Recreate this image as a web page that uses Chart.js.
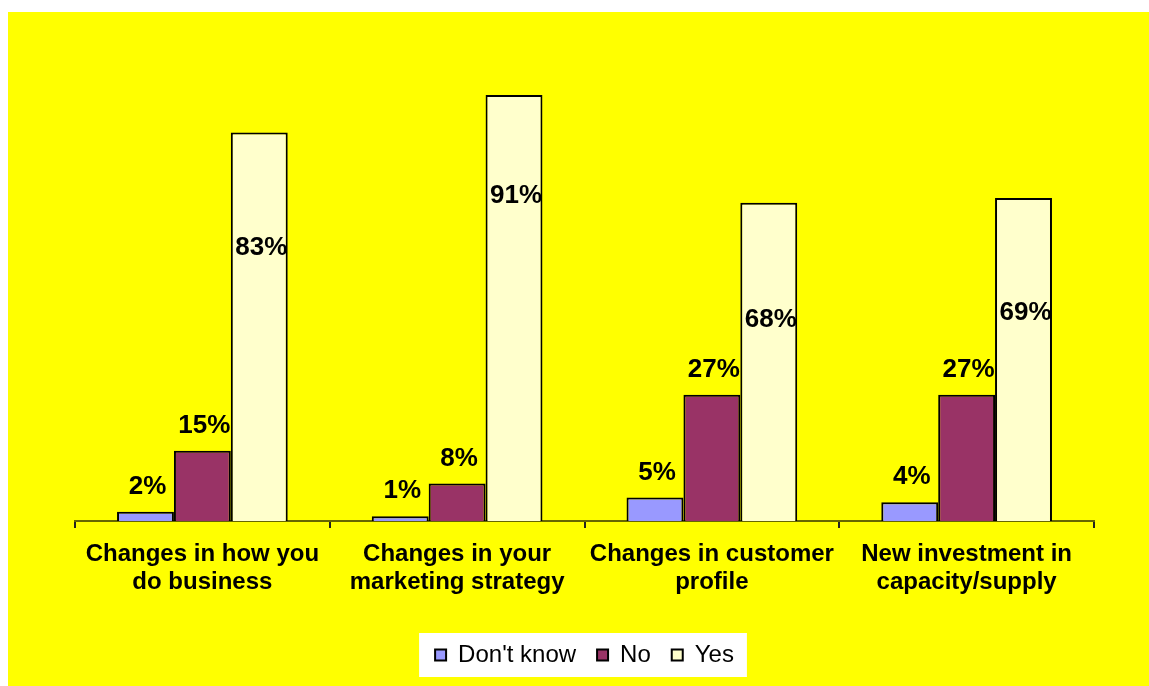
<!DOCTYPE html>
<html>
<head>
<meta charset="utf-8">
<script src="https://cdn.jsdelivr.net/npm/chart.js@4"></script>
<style>
	html, body { margin: 0; padding: 0; background: #FFF; }
	#wrap { position: relative; width: 1149px; height: 686px; }
</style>
</head>
<body>
<div id="wrap"><canvas id="graph_survey"></canvas></div>
<script>
var categories = [
	["Changes in how you", "do business"],
	["Changes in your", "marketing strategy"],
	["Changes in customer", "profile"],
	["New investment in", "capacity/supply"]
];
var dontKnow = [2, 1, 5, 4];
var no = [15, 8, 27, 27];
var yes = [83, 91, 68, 69];

var graph_survey;

// yellow panel behind the chart, white box behind the legend
var panelPlugin = {
	id: 'panel',
	beforeDraw: function(chart){
		var ctx = chart.ctx;
		ctx.save();
		ctx.fillStyle = '#FFFF00';
		ctx.fillRect(8, 12, chart.width - 8, chart.height - 12);

		var boxes = chart.legend.legendHitBoxes;
		if(boxes && boxes.length){
			var first = boxes[0];
			var last = boxes[boxes.length - 1];
			var mid = first.top + first.height / 2;
			var left = first.left - 16;
			var right = last.left + last.width + 13;
			ctx.fillStyle = '#FFF';
			ctx.fillRect(left, mid - 22, right - left, 44);
		}
		ctx.restore();
	}
};

// percentage labels; "Yes" labels sit inside the bar, the others above it
var valueLabelPlugin = {
	id: 'valueLabels',
	afterDatasetsDraw: function(chart, args, opts){
		var ctx = chart.ctx;
		ctx.save();
		ctx.font = 'bold 26px "Liberation Sans", Arial, sans-serif';
		ctx.fillStyle = '#000';
		ctx.textAlign = 'center';
		ctx.textBaseline = 'middle';
		chart.data.datasets.forEach(function(ds, i){
			var meta = chart.getDatasetMeta(i);
			meta.data.forEach(function(bar, j){
				var off = opts.offsets[i];
				if(Array.isArray(off)){
					off = off[j];
				}
				ctx.fillText(ds.data[j] + '%', bar.x + 2, bar.y + off);
			});
		});
		ctx.restore();
	}
};

var graph_survey_config = {
	type: 'bar',
	data: {
		labels: categories,
		datasets: [{
			label: "Don't know",
			data: dontKnow,
			backgroundColor: '#9999FF',
			borderColor: '#000',
			borderWidth: 2
		},{
			label: 'No',
			data: no,
			backgroundColor: '#993366',
			borderColor: '#000',
			borderWidth: 2
		},{
			label: 'Yes',
			data: yes,
			backgroundColor: '#FFFFCC',
			borderColor: '#000',
			borderWidth: 2
		}]
	},
	options: {
		animation: false,
		responsive: true,
		maintainAspectRatio: false,
		layout: {
			padding: { left: 75, right: 55, top: 53, bottom: 9 }
		},
		datasets: {
			bar: {
				categoryPercentage: 0.67,
				barPercentage: 1.0
			}
		},
		scales: {
			x: {
				afterFit: function(scale){
					scale.height = 101;
				},
				ticks: {
					font: {
						family: '"Liberation Sans", Arial, sans-serif',
						size: 24,
						weight: 'bold',
						lineHeight: 1.17
					},
					color: '#000',
					padding: 12,
					maxRotation: 0
				},
				grid: {
					drawOnChartArea: false,
					drawTicks: true,
					tickLength: 7,
					color: '#222',
					lineWidth: 2
				},
				border: {
					display: true,
					color: '#666600',
					width: 2
				}
			},
			y: {
				display: false,
				min: 0,
				max: 100
			}
		},
		plugins: {
			legend: {
				display: true,
				position: 'bottom',
				labels: {
					font: {
						family: '"Liberation Sans", Arial, sans-serif',
						size: 24
					},
					color: '#000',
					boxWidth: 11,
					boxHeight: 11,
					padding: 21
				}
			},
			tooltip: { enabled: false },
			valueLabels: {
				offsets: [-25, -25, [115, 101, 117, 115]]
			}
		}
	},
	plugins: [panelPlugin, valueLabelPlugin]
};

document.addEventListener("DOMContentLoaded", function(){
	graph_survey = new Chart(document.getElementById("graph_survey").getContext('2d'), graph_survey_config);
});
</script>
</body>
</html>
